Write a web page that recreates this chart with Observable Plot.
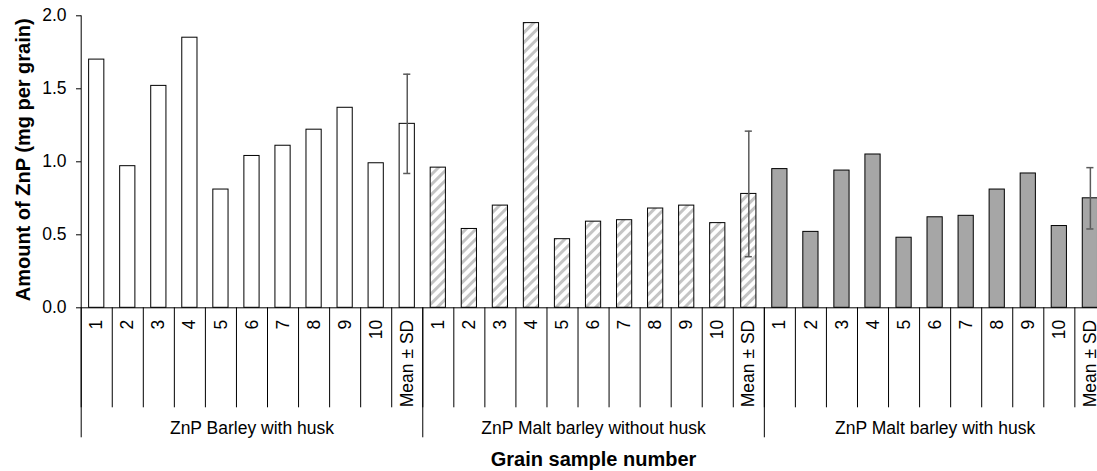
<!DOCTYPE html>
<html><head><meta charset="utf-8">
<script src="https://cdn.jsdelivr.net/npm/d3@7"></script>
<script src="https://cdn.jsdelivr.net/npm/@observablehq/plot@0.6"></script>
<style>body{margin:0;overflow:hidden;background:#fff}</style>
</head><body><div id="chart"></div>
<script>
const groups = ["ZnP Barley with husk", "ZnP Malt barley without husk", "ZnP Malt barley with husk"];
const sampleLabels = ["1","2","3","4","5","6","7","8","9","10","Mean ± SD"];
const barleyWithHusk = [1.70, 0.97, 1.52, 1.85, 0.81, 1.04, 1.11, 1.22, 1.37, 0.99, 1.26];
const maltWithoutHusk = [0.96, 0.54, 0.70, 1.95, 0.47, 0.59, 0.60, 0.68, 0.70, 0.58, 0.78];
const maltWithHusk = [0.95, 0.52, 0.94, 1.05, 0.48, 0.62, 0.63, 0.81, 0.92, 0.56, 0.75];
const groupSD = [0.34, 0.43, 0.21];
const yTicks = [0, 0.5, 1.0, 1.5, 2.0];
const yTitle = "Amount of ZnP (mg per grain)";
const xTitle = "Grain sample number";

const groupFills = ["white", "url(#znp-hatch)", "#a6a6a6"];
const series = [barleyWithHusk, maltWithoutHusk, maltWithHusk];
const n = sampleLabels.length;
const rows = series.flatMap((vals, g) => vals.map((v, k) => ({
  g, group: groups[g], label: sampleLabels[k], value: v, i: g * n + k,
  isMean: k === n - 1, sd: k === n - 1 ? groupSD[g] : null
})));
const means = rows.filter(d => d.isMean);
const total = rows.length;
const half = 0.245; // half bar width as fraction of band
const capHalf = 0.115;

const groupInfo = groups.map((name, g) => ({name, center: g * n + n / 2}));

const marks = [];
groups.forEach((name, g) => {
  marks.push(Plot.rectY(rows.filter(d => d.g === g), {
    x1: d => d.i + 0.5 - half, x2: d => d.i + 0.5 + half, y1: 0, y2: "value",
    fill: groupFills[g], stroke: "black", strokeWidth: 1
  }));
});
marks.push(
  Plot.ruleX(means, {x: d => d.i + 0.5, y1: d => d.value - d.sd, y2: d => d.value + d.sd, stroke: "#5a5a5a", strokeWidth: 1.5}),
  Plot.ruleY(means, {y: d => d.value + d.sd, x1: d => d.i + 0.5 - capHalf, x2: d => d.i + 0.5 + capHalf, stroke: "#5a5a5a", strokeWidth: 1.5}),
  Plot.ruleY(means, {y: d => d.value - d.sd, x1: d => d.i + 0.5 - capHalf, x2: d => d.i + 0.5 + capHalf, stroke: "#5a5a5a", strokeWidth: 1.5}),
  Plot.ruleY([0], {stroke: "black", strokeWidth: 1}),
  Plot.ruleX([0], {stroke: "black", strokeWidth: 1}),
  Plot.axisY(yTicks, {tickSize: 5, tickPadding: 10, tickFormat: d3.format(".1f"), fontSize: 17.5, label: null}),
  Plot.axisX(d3.range(total + 1), {anchor: "bottom", tickSize: 100, tickFormat: () => "", label: null}),
  Plot.axisX(d3.range(0, total + 1, n), {anchor: "bottom", tickSize: 130, tickFormat: () => "", label: null}),
  Plot.text(rows, {x: d => d.i + 0.5, frameAnchor: "bottom", text: "label", rotate: -90, textAnchor: "end", lineAnchor: "middle", dy: 12, fontSize: 17.5}),
  Plot.text(groupInfo, {x: "center", frameAnchor: "bottom", text: "name", lineAnchor: "bottom", dy: 126, fontSize: 17.5}),
  Plot.text([xTitle], {x: () => total / 2, frameAnchor: "bottom", text: d => d, lineAnchor: "bottom", dy: 158, fontSize: 20, fontWeight: "bold"}),
  Plot.text([yTitle], {frameAnchor: "left", text: d => d, rotate: -90, textAnchor: "middle", lineAnchor: "bottom", dx: -51.5, dy: -2, fontSize: 20, fontWeight: "bold"})
);

const chart = Plot.plot({
  width: 1097, height: 471,
  marginTop: 15.3, marginBottom: 163.7, marginLeft: 81, marginRight: 0,
  x: {domain: [0, total], range: [80.7, 1105.4]},
  y: {domain: [0, 2], range: [307.3, 15.3]},
  style: {fontFamily: "'Liberation Sans', Arial, sans-serif", color: "black", background: "white"},
  marks
});

const svg = d3.select(chart.tagName.toLowerCase() === "svg" ? chart : chart.querySelector("svg"));
const pat = svg.insert("defs", ":first-child").append("pattern")
  .attr("id", "znp-hatch").attr("patternUnits", "userSpaceOnUse")
  .attr("width", 7).attr("height", 7).attr("patternTransform", "rotate(45)");
pat.append("rect").attr("width", 7).attr("height", 7).attr("fill", "white");
pat.append("rect").attr("width", 3).attr("height", 7).attr("fill", "#c4c4c4");

document.getElementById("chart").appendChild(chart);
</script>
</body></html>
